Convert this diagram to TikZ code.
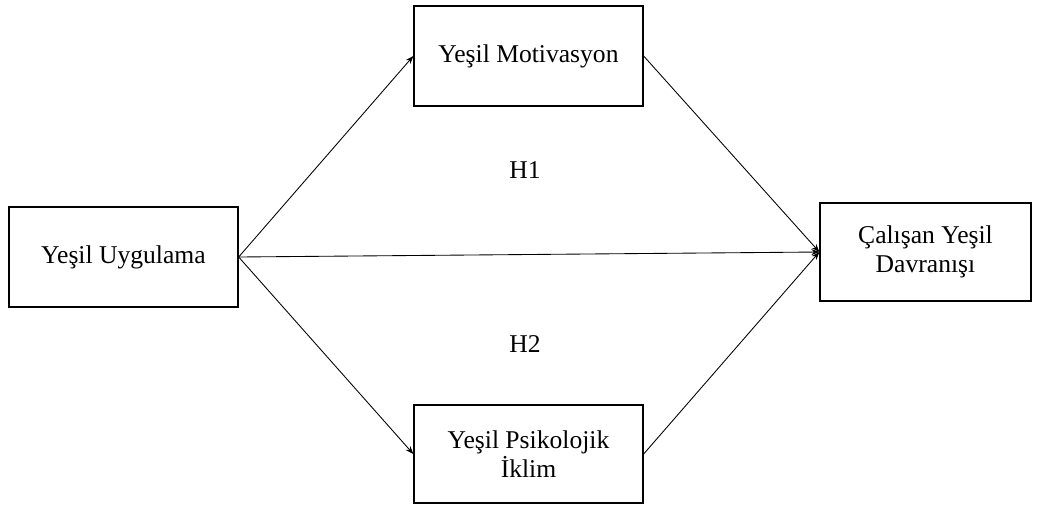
\documentclass[tikz,border=0pt]{standalone}
\usepackage{fontspec}
\setmainfont{Liberation Serif}
\usetikzlibrary{arrows.meta}

\begin{document}
\begin{tikzpicture}[x=0.75pt,y=-0.75pt,
  kutu/.style={draw,line width=1pt,minimum width=171.75pt,minimum height=75pt,
    align=center,font=\fontsize{19.2}{22}\selectfont,inner sep=2pt},
  ok/.style={line width=0.65pt,-{Stealth[length=6pt,width=4.5pt]}},
  etiket/.style={font=\fontsize{19.2}{22}\selectfont}]
\useasboundingbox (0,0) rectangle (1040,508);

\node[kutu] (uyg) at (123.5,257) {Yeşil Uygulama};
\node[kutu] (mot) at (528.5,56) {Yeşil Motivasyon};
\node[kutu,minimum height=73.5pt] (psi) at (528.5,454) {Yeşil Psikolojik\\İklim};
\node[kutu,minimum width=158.25pt,minimum height=73.5pt] (dav) at (925.5,252) {Çalışan Yeşil\\Davranışı};

\node[etiket] (h1) at (525,170) {H1};
\node[etiket] (h2) at (525,344) {H2};

\draw[ok] (uyg.east) -- (mot.west);
\draw[ok] (uyg.east) -- (dav.west);
\draw[ok] (uyg.east) -- (psi.west);
\draw[ok] (mot.east) -- (dav.west);
\draw[ok] (psi.east) -- (dav.west);

\end{tikzpicture}
\end{document}
